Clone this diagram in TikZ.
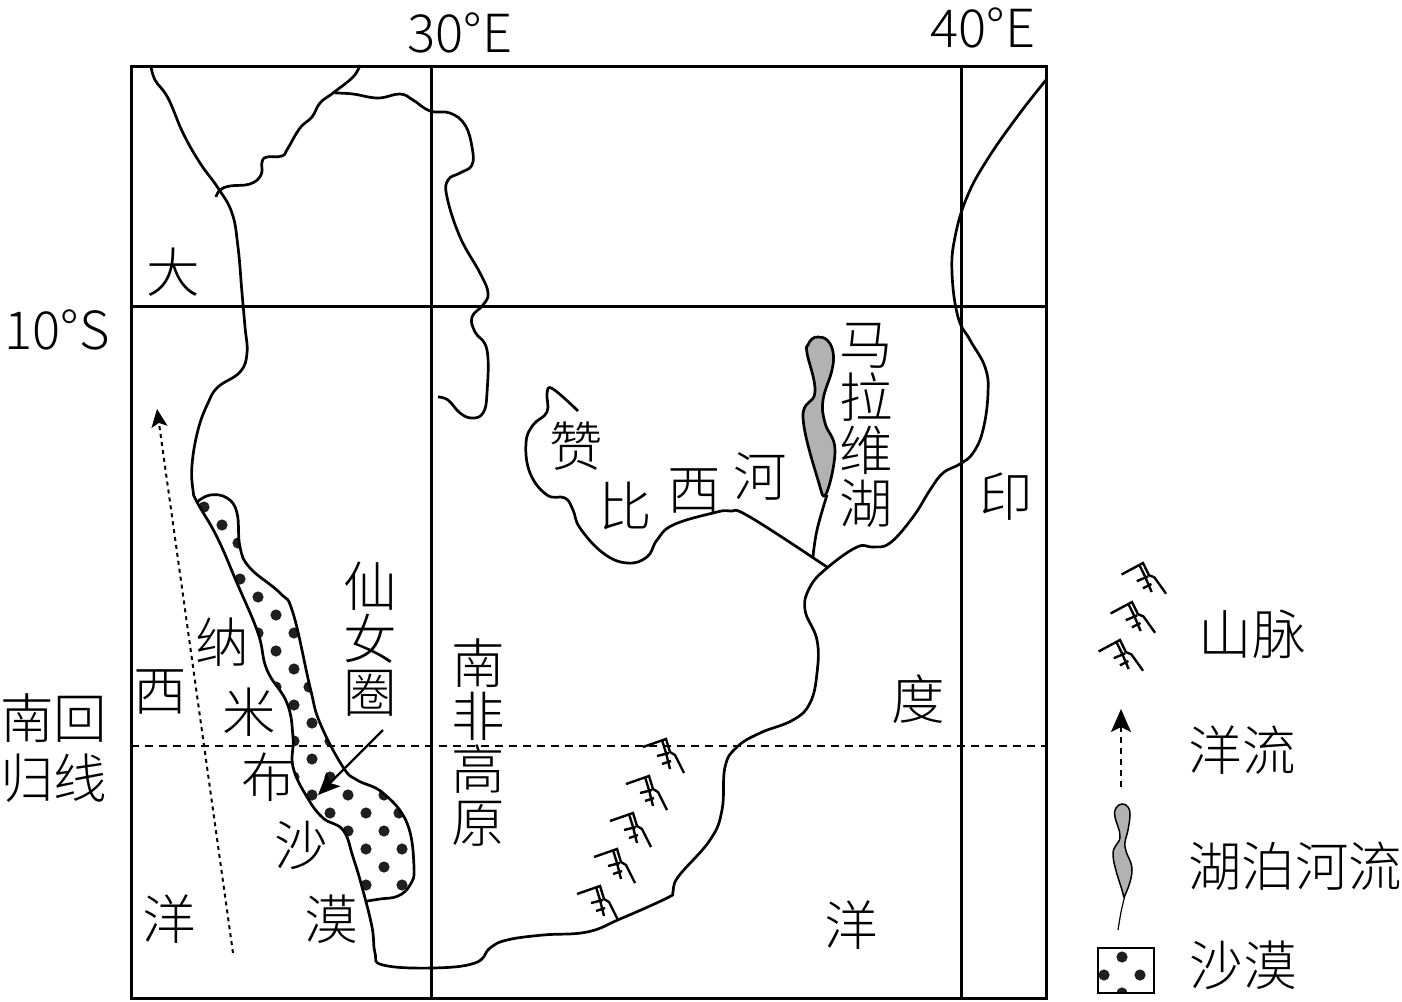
\documentclass[tikz,border=0pt]{standalone}
\usepackage{fontspec}
\usetikzlibrary{arrows.meta}
\newfontfamily\cjk{Noto Sans CJK SC Light}
\tikzset{
    lab/.style={font=\cjk\fontsize{53.5}{53}\selectfont, inner sep=0pt, align=center},
    num/.style={font=\cjk\fontsize{52.5}{53}\selectfont, inner sep=0pt, align=center},
    trait/.style={line width=2.7pt, line join=round},
    mtnsym/.pic={
        \draw[line width=2.4pt] (-23,8) -- (0,0) -- (4,13) -- (9,16) -- (18,34);
        \draw[line width=2.4pt] (-4,1) -- (0,14) -- (4,30);
        \draw[line width=2.4pt] (-9,17) -- (3,14);
        \draw[line width=2.4pt] (-4,25) -- (5,22);
    }
}
\begin{document}
\begin{tikzpicture}[x=1pt,y=-1pt]
    \useasboundingbox (0,0) rectangle (1402,1001);

    % Points dans le désert (coupés par son contour)
    \begin{scope}
        \clip plot[smooth, tension=0.7] coordinates {(197,502) (217,537) (237,583) (258,633) (267,670) (287,703) (293,737) (293,767) (307,797) (323,818) (343,830) (353,857) (367,901)}
            -- plot[smooth, tension=0.7] coordinates {(367,901) (380,899) (398,896) (410,885) (414,867) (407,823) (383,793) (357,780) (343,767) (320,723) (310,687) (293,613) (280,593) (250,568) (240,547) (237,513) (227,498) (210,495) (197,502)} -- cycle;
        \foreach \x/\y in {204/507,222/525,238/543,240/579,258/597,276/615,258/633,294/633,276/651,294/669,276/687,309/687,294/705,312/723,294/741,330/741,312/759,294/777,330/777,312/795,348/795,384/795,330/813,366/813,399/813,348/831,384/831,366/849,402/849,384/867,366/885,402/885}
            \fill[black!88] (\x,\y) circle (5.6);
    \end{scope}

    % Cadre et méridiens
    \draw[line width=3pt] (131,66) rectangle (1046,998);
    \draw[line width=3pt] (431,66) -- (431,998);
    \draw[line width=3pt] (961,66) -- (961,998);
    \draw[line width=3pt] (131,306) -- (1046,306);
    \draw[line width=2.8pt, dash pattern=on 8pt off 6pt] (131,746) -- (1046,746);

    % Côte ouest et sud
    \draw[trait] plot[smooth, tension=0.7] coordinates {(151,66) (155,80) (168,98) (183,133) (200,163) (218,188) (232,213) (238,247) (242,293) (245,327) (247,353) (240,372) (218,387) (208,403) (198,430) (192,465) (193,490) (197,502) (217,537) (237,583) (258,633) (267,670) (287,703) (293,737) (293,767) (307,797) (323,818) (343,830) (353,857) (362,887) (372,927) (375,953) (383,965) (432,968) (475,963) (490,948) (507,940) (543,935) (587,932) (620,919) (667,898) (673,892) (678,877) (710,840) (722,810) (725,767) (737,747) (760,733) (793,720) (810,703) (817,673) (817,640) (805,610) (810,587) (827,568) (857,547) (873,547) (890,543) (913,517) (930,490) (943,473) (960,464) (973,453) (983,430) (988,393) (985,367) (970,340) (958,317) (952,273) (955,237) (967,197) (987,160) (1017,117) (1046,80)};

    % Bord du désert
    \draw[trait] plot[smooth, tension=0.7] coordinates {(197,502) (210,495) (227,498) (237,513) (240,547) (250,568) (280,593) (293,613) (310,687) (320,723) (343,767) (357,780) (383,793) (407,823) (414,867) (410,885) (398,896) (380,899) (367,901)};

    % Frontières au nord
    \draw[trait] plot[smooth, tension=0.7] coordinates {(360,65) (353,77) (333,93) (320,103) (312,117) (300,128) (288,148) (282,156) (267,157) (262,162) (261,175) (250,184) (230,186) (220,190) (216,197)};
    \draw[trait] plot[smooth, tension=0.7] coordinates {(335,93) (353,94) (378,98) (400,94) (413,100) (430,111) (450,113) (465,125) (472,147) (472,165) (460,173) (448,180) (447,197) (460,237) (480,273) (488,293) (483,305) (472,317) (475,332) (487,350) (487,393) (483,413) (472,418) (460,413) (448,400) (438,397)};

    % Fleuve et lac
    \draw[trait] plot[smooth, tension=0.7] coordinates {(578,411) (553,389) (547,393) (547,412) (533,425) (526,443) (530,473) (547,495) (565,498) (573,510) (580,528) (603,553) (627,563) (647,557) (657,540) (673,525) (713,513) (730,511) (750,517) (827,567)};
    \draw[trait] plot[smooth, tension=0.7] coordinates {(827,495) (817,530) (813,557)};
    \draw[trait, fill=black!30] plot[smooth cycle, tension=0.7] coordinates {(818,337) (827,340) (833,352) (832,370) (823,400) (825,423) (835,450) (826,494) (818,480) (803,417) (815,392) (807,353) (808,345) (812,339)};

    % Montagnes
    \foreach \x/\y in {666/739,649/776,633/813,617/849,600/886}
        \pic at (\x,\y) {mtnsym};
    \foreach \x/\y in {1143/563,1132/602,1120/640}
        \pic[rotate=9] at (\x,\y) {mtnsym};

    % Courant marin et flèche du texte
    \coordinate (courantA) at (233,953);
    \coordinate (courantB) at (157,409);
    \draw[line width=2pt, dash pattern=on 4pt off 4pt, -{Stealth[length=18pt,width=16pt,inset=4pt]}] (courantA) -- (courantB);
    \coordinate (flecheA) at (383,730);
    \coordinate (flecheB) at (318,795);
    \draw[line width=2.4pt, -{Stealth[length=22pt,width=19pt,inset=5pt]}] (flecheA) -- (flecheB);

    % Légende
    \coordinate (legA) at (1121,787);
    \coordinate (legB) at (1121,709);
    \draw[line width=2pt, dash pattern=on 6pt off 5pt, -{Stealth[length=23pt,width=20pt,inset=5pt]}] (legA) -- (legB);
    \draw[line width=1.5pt, fill=black!30] plot[smooth cycle, tension=0.7] coordinates {(1122,804) (1128,807) (1130,815) (1128,830) (1125,847) (1132,870) (1125,895) (1122,890) (1113,855) (1120,837) (1115,817) (1116,808)};
    \draw[line width=1.2pt] plot[smooth] coordinates {(1125,895) (1121,912) (1118,930)};
    \begin{scope}
        \clip (1098,948) rectangle (1154,993);
        \foreach \x/\y in {1122/957,1104/975,1140/975,1122/993}
            \fill[black!88] (\x,\y) circle (5.6);
    \end{scope}
    \draw[line width=2.4pt] (1098,948) rectangle (1154,993);

    % Textes
    \node[num] (long30) at (460,33) {30°E};
    \node[num] (long40) at (983,28) {40°E};
    \node[num] (lat10) at (57,330) {10°S};
    \node[lab] (tropA) at (54,718) {南回};
    \node[lab] (tropB) at (54,778) {归线};
    \node[lab] (da) at (173,272) {大};
    \node[lab] (xi) at (160,692) {西};
    \node[lab] (na) at (222,642) {纳};
    \node[lab] (mi) at (249,712) {米};
    \node[lab] (bu) at (268,777) {布};
    \node[lab] (sha) at (301,845) {沙};
    \node[lab] (mo) at (331,919) {漠};
    \node[lab] (yangA) at (169,919) {洋};
    \node[lab] (xian) at (370,639) {仙\\女\\圈};
    \node[lab] (nanfei) at (478,743) {南\\非\\高\\原};
    \node[lab] (zan) at (576,446) {赞};
    \node[lab] (bi) at (625,506) {比};
    \node[lab] (xiB) at (694,491) {西};
    \node[lab] (he) at (760,476) {河};
    \node[lab] (malawi) at (866,425) {马\\拉\\维\\湖};
    \node[lab] (yin) at (1006,497) {印};
    \node[lab] (du) at (918,699) {度};
    \node[lab] (yangB) at (851,925) {洋};
    \node[lab] (legMont) at (1252,634) {山脉};
    \node[lab] (legCour) at (1242,750) {洋流};
    \node[lab] (legLac) at (1295,866) {湖泊河流};
    \node[lab] (legDes) at (1243,965) {沙漠};
\end{tikzpicture}
\end{document}
